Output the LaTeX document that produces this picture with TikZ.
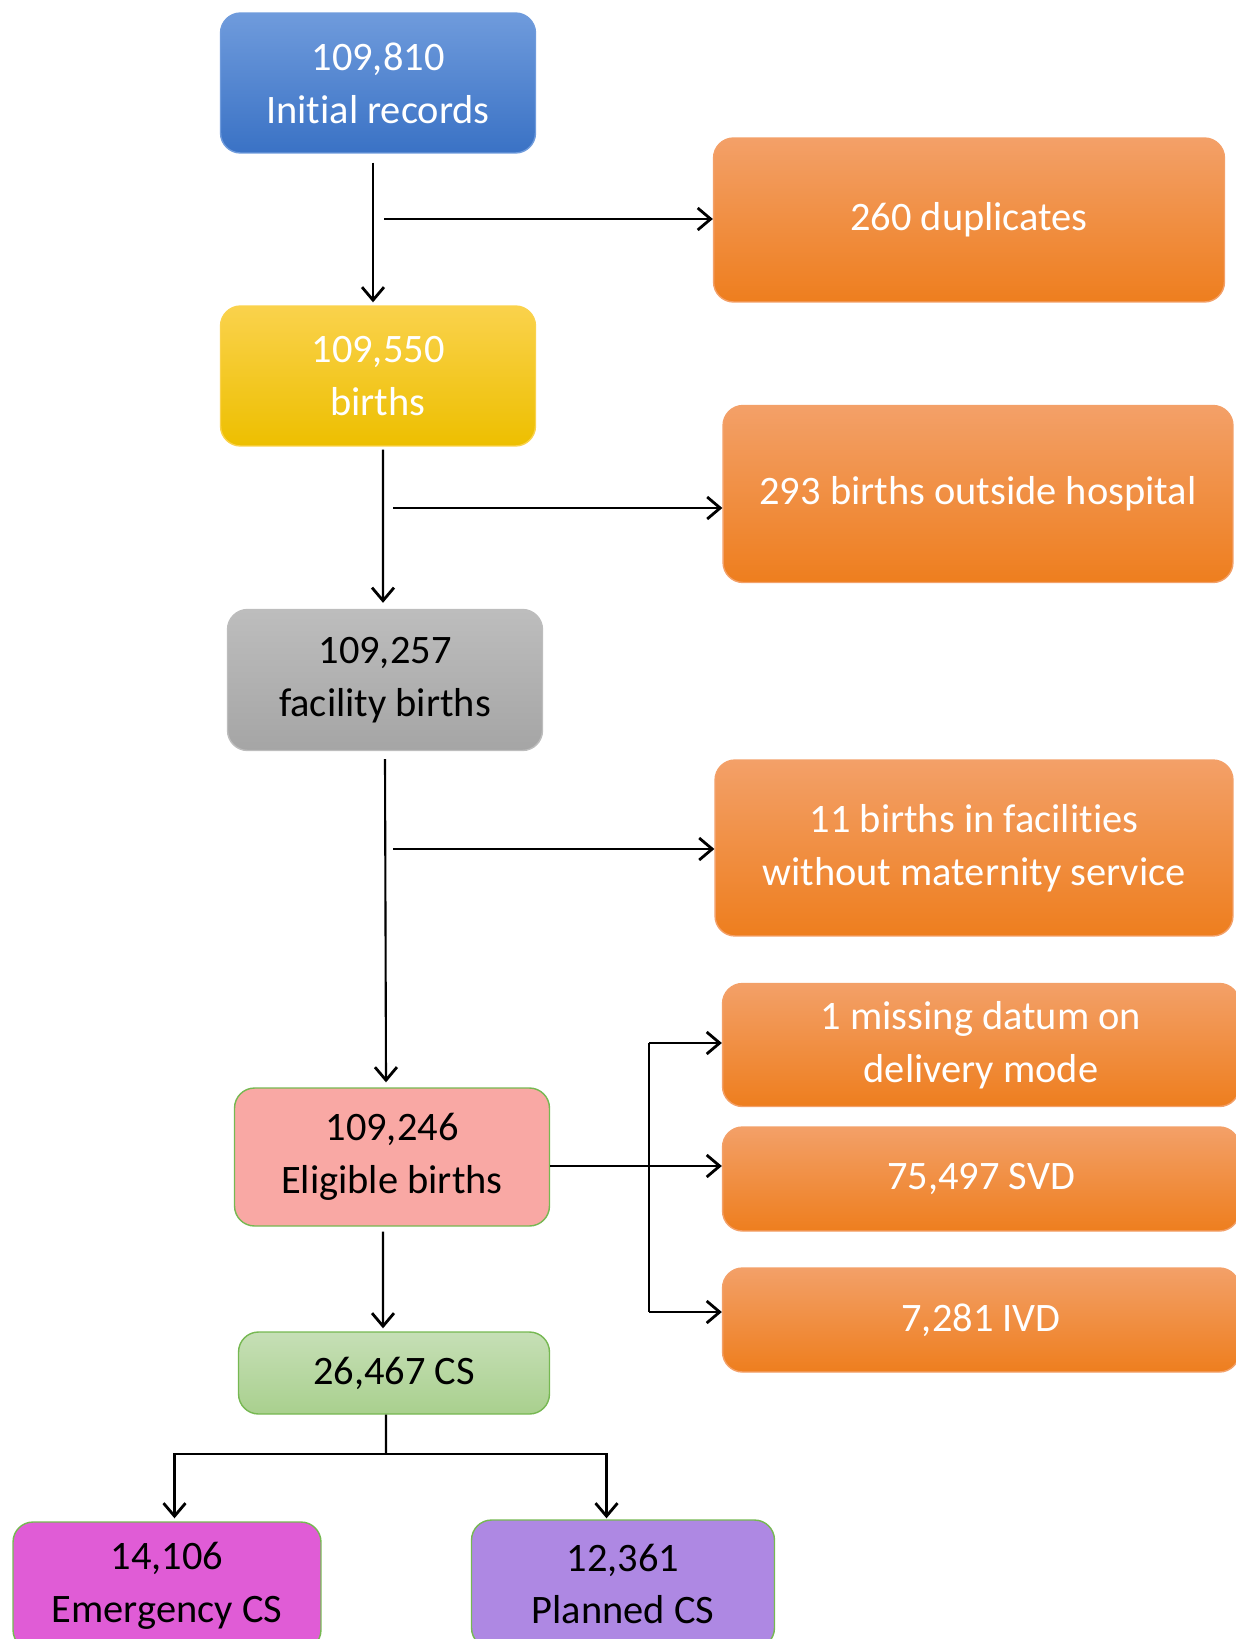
\documentclass[tikz,border=0pt]{standalone}
\usepackage{fontspec}
\setmainfont{Carlito}[Ligatures={NoCommon,NoContextual,NoRequired},RawFeature=-calt]
\usetikzlibrary{arrows.meta}

\definecolor{initTop}{HTML}{6F9BDC}
\definecolor{initBot}{HTML}{3A72C5}
\definecolor{birthTop}{HTML}{FAD24C}
\definecolor{birthBot}{HTML}{EDBF00}
\definecolor{facTop}{HTML}{BDBDBD}
\definecolor{facBot}{HTML}{A5A5A5}
\definecolor{exclTop}{HTML}{F3A068}
\definecolor{exclBot}{HTML}{EE7E1E}
\definecolor{eligFill}{HTML}{F9A8A4}
\definecolor{csTop}{HTML}{C6DFB6}
\definecolor{csBot}{HTML}{A9D08E}
\definecolor{emgFill}{HTML}{E05CD6}
\definecolor{planFill}{HTML}{AE88E3}
\definecolor{greenLine}{HTML}{76B852}

\begin{document}
\begin{tikzpicture}[x=0.02cm,y=-0.02cm,
  >={Straight Barb[length=0.26cm,width=0.44cm,line width=1.6pt]},
  box/.style={rounded corners=0.4cm, align=center, inner sep=0pt, line width=0.8pt,
    font=\fontsize{23}{30}\selectfont},
  initbox/.style={box, top color=initTop, bottom color=initBot, draw=initTop, text=white},
  birthbox/.style={box, top color=birthTop, bottom color=birthBot, draw=birthTop, text=white},
  facbox/.style={box, top color=facTop, bottom color=facBot, draw=facTop, text=black},
  exclbox/.style={box, top color=exclTop, bottom color=exclBot, draw=exclTop, text=white},
  eligbox/.style={box, fill=eligFill, draw=greenLine, text=black},
  csbox/.style={box, top color=csTop, bottom color=csBot, draw=greenLine, text=black},
  emgbox/.style={box, fill=emgFill, draw=greenLine, text=black},
  planbox/.style={box, fill=planFill, draw=greenLine, text=black},
  link/.style={line width=1.2pt}]

\useasboundingbox (0,0) rectangle (1235,1639);

% main column
\node[initbox, minimum width=6.3cm, minimum height=2.8cm] (init) at (378,83) {109,810\\Initial records};
\node[birthbox, minimum width=6.3cm, minimum height=2.8cm] (births) at (378,376) {109,550\\births};
\node[facbox, minimum width=6.3cm, minimum height=2.82cm] (fac) at (385,680) {109,257\\facility births};
\node[eligbox, minimum width=6.3cm, minimum height=2.76cm] (elig) at (392,1157) {109,246\\Eligible births};
\node[csbox, minimum width=6.22cm, minimum height=1.64cm] (cs) at (394,1373) {26,467 CS};
\node[emgbox, minimum width=6.16cm, minimum height=2.56cm] (emg) at (167,1586) {14,106\\Emergency CS};
\node[planbox, minimum width=6.06cm, minimum height=2.56cm] (plan) at (623,1584) {12,361\\Planned CS};

% exclusions
\node[exclbox, minimum width=10.22cm, minimum height=3.28cm] (dup) at (969,220) {260 duplicates};
\node[exclbox, minimum width=10.2cm, minimum height=3.54cm] (outside) at (978,494) {293 births outside hospital};
\node[exclbox, minimum width=10.36cm, minimum height=3.52cm] (nomat) at (974,848) {11 births in facilities\\without maternity service};
\node[exclbox, minimum width=10.34cm, minimum height=2.46cm] (missing) at (981,1045) {1 missing datum on\\delivery mode};
\node[exclbox, minimum width=10.34cm, minimum height=2.08cm] (svd) at (981,1179) {75,497 SVD};
\node[exclbox, minimum width=10.34cm, minimum height=2.08cm] (ivd) at (981,1320) {7,281 IVD};

\coordinate (b1) at (384,219);
\coordinate (b2) at (393,508);
\coordinate (b3) at (393,849);
\coordinate (fork) at (649,1166);
\coordinate (split) at (386,1454);

\draw[link,->] ([xshift=-0.1cm,yshift=-0.18cm]init.south) -- ([xshift=-0.1cm,yshift=0.06cm]births.north);
\draw[link,->] (b1) -- (b1 -| dup.west);
\draw[link,->] ([xshift=0.1cm,yshift=-0.06cm]births.south) -- ([xshift=-0.04cm,yshift=0.12cm]fac.north);
\draw[link,->] (b2) -- (b2 -| outside.west);
\draw[link,->] ([yshift=-0.16cm]fac.south) -- ([xshift=-0.12cm,yshift=0.1cm]elig.north);
\draw[link,->] (b3) -- (b3 -| nomat.west);
\draw[link,->] ([yshift=-0.18cm]elig.east) -- ([yshift=-0.18cm]elig.east -| svd.west);
\draw[link] ([yshift=0.04cm]fork |- missing.west) -- ([yshift=0.16cm]fork |- ivd.center);
\draw[link,->] ([yshift=0.04cm]fork |- missing.west) -- ([yshift=0.04cm]missing.west);
\draw[link,->] ([yshift=0.16cm]fork |- ivd.west) -- ([yshift=0.16cm]ivd.west);
\draw[link,->] ([xshift=-0.18cm,yshift=-0.1cm]elig.south) -- ([xshift=-0.22cm,yshift=0.06cm]cs.north);
\draw[link] ([xshift=-0.16cm]cs.south) -- (split);
\draw[link,->] (split) -| ([xshift=0.15cm,yshift=0.06cm]emg.north);
\draw[link,->] (split) -| ([xshift=-0.33cm,yshift=0.02cm]plan.north);

\end{tikzpicture}
\end{document}
